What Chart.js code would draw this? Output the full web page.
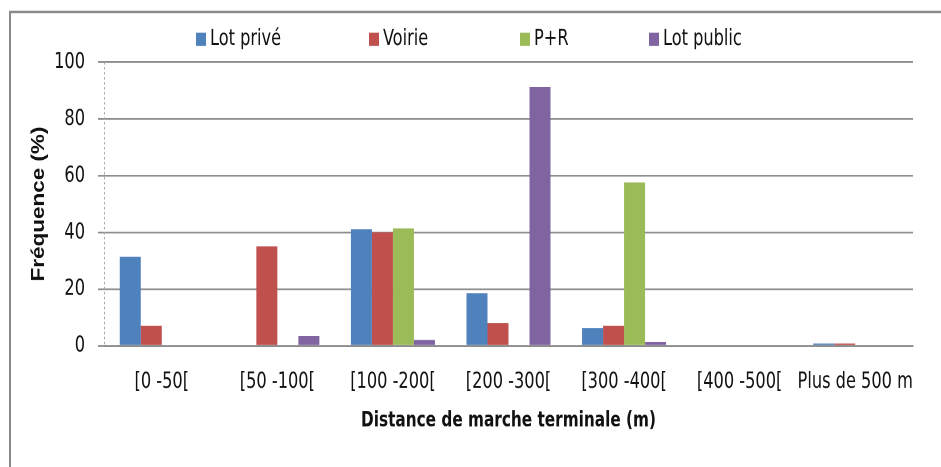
<!DOCTYPE html>
<html>
<head>
<meta charset="utf-8">
<script src="https://cdn.jsdelivr.net/npm/chart.js@4/dist/chart.umd.min.js"></script>
<style>
  html, body { margin: 0; padding: 0; background: #fff; }
  #wrap { width: 941px; height: 467px; position: relative; overflow: hidden; }
  /* the chart is drawn a bit flatter and stretched to full height, which gives the tall lettering */
  #distChart { transform-origin: 0 0; transform: scaleY(1.2487); }
</style>
</head>
<body>
<div id="wrap"><canvas id="distChart" width="941" height="374"></canvas></div>
<script>
// walking distance classes and share of users per parking type (%)
var categories = ['[0 -50[', '[50 -100[', '[100 -200[', '[200 -300[', '[300 -400[', '[400 -500[', 'Plus de 500 m'];
var lotPrive   = [31.4, 0, 41.1, 18.6, 6.3, 0, 0.8];
var voirie     = [7.1, 35.1, 40.0, 8.1, 7.1, 0, 0.8];
var parkRide   = [0, 0, 41.4, 0, 57.6, 0, 0];
var lotPublic  = [0, 3.5, 2.1, 91.3, 1.3, 0, 0];
var yTicks = [0, 20, 40, 60, 80, 100];

var narrow = "'Liberation Sans Narrow', 'DejaVu Sans Condensed', 'Liberation Sans', sans-serif";
var textColor = '#111';

// frame around the whole chart + dotted value axis line
var frame = {
  id: 'frame',
  beforeDraw: function (chart) {
    var ctx = chart.ctx;
    ctx.save();
    ctx.fillStyle = '#fff';
    ctx.fillRect(0, 0, chart.width, chart.height);
    ctx.strokeStyle = '#8a8a8a';
    ctx.lineWidth = 2;
    ctx.strokeRect(10, 9.6, chart.width + 20, chart.height + 20);
    ctx.restore();
  },
  beforeDatasetsDraw: function (chart) {
    var ctx = chart.ctx;
    var a = chart.chartArea;
    ctx.save();
    ctx.strokeStyle = '#a8a8a8';
    ctx.lineWidth = 1;
    ctx.setLineDash([2, 2]);
    ctx.beginPath();
    ctx.moveTo(a.left + 0.5, a.top);
    ctx.lineTo(a.left + 0.5, a.bottom);
    ctx.stroke();
    ctx.restore();
  }
};

// legend row laid out like the spreadsheet one
var legendX = [196, 369, 520, 649];
var topLegend = {
  id: 'topLegend',
  afterDraw: function (chart) {
    var ctx = chart.ctx;
    ctx.save();
    ctx.font = '18px ' + narrow;
    ctx.textBaseline = 'middle';
    chart.data.datasets.forEach(function (ds, i) {
      var x = legendX[i];
      ctx.fillStyle = ds.backgroundColor;
      ctx.fillRect(x, 26.2, 10, 10.6);
      ctx.fillStyle = textColor;
      ctx.fillText(ds.label, x + 14, 31.5);
    });
    ctx.restore();
  }
};

var ctx = document.getElementById('distChart');
var myChart = new Chart(ctx, {
  type: 'bar',
  data: {
    labels: categories,
    datasets: [
      { label: 'Lot privé',  data: lotPrive,  backgroundColor: '#4f81bd' },
      { label: 'Voirie',     data: voirie,    backgroundColor: '#c0504d' },
      { label: 'P+R',        data: parkRide,  backgroundColor: '#9bbb59' },
      { label: 'Lot public', data: lotPublic, backgroundColor: '#8064a2' }
    ]
  },
  options: {
    responsive: false,
    devicePixelRatio: 2,
    animation: false,
    layout: { padding: { left: 12, right: 28, top: 49.7, bottom: 0 } },
    datasets: {
      bar: { categoryPercentage: 0.727, barPercentage: 1.0 }
    },
    plugins: {
      legend: { display: false },
      tooltip: { enabled: false }
    },
    scales: {
      x: {
        grid: { display: false, drawTicks: false },
        border: { display: true, color: '#8a8a8a', width: 1.4 },
        ticks: {
          color: textColor,
          font: { family: narrow, size: 18 },
          padding: 18,
          maxRotation: 0,
          autoSkip: false
        },
        title: {
          display: true,
          text: 'Distance de marche terminale (m)',
          color: textColor,
          font: { family: narrow, size: 17, weight: 'bold' },
          padding: { top: 0, bottom: 26.5 }
        },
        afterFit: function (scale) { scale.height = 97; }
      },
      y: {
        min: 0,
        max: 100,
        afterBuildTicks: function (scale) {
          scale.ticks = yTicks.map(function (v) { return { value: v }; });
        },
        grid: { color: '#8e8e8e', lineWidth: 1.4, tickLength: 6, tickColor: '#8e8e8e' },
        border: { display: false },
        ticks: {
          color: textColor,
          font: { family: narrow, size: 18 },
          padding: 13
        },
        title: {
          display: true,
          text: 'Fréquence (%)',
          color: textColor,
          font: { family: "'Liberation Sans', Arial, sans-serif", size: 18, weight: 'bold' },
          padding: { top: 16, bottom: 0 }
        },
        afterFit: function (scale) { scale.width = 92; }
      }
    }
  },
  plugins: [frame, topLegend]
});
</script>
</body>
</html>
